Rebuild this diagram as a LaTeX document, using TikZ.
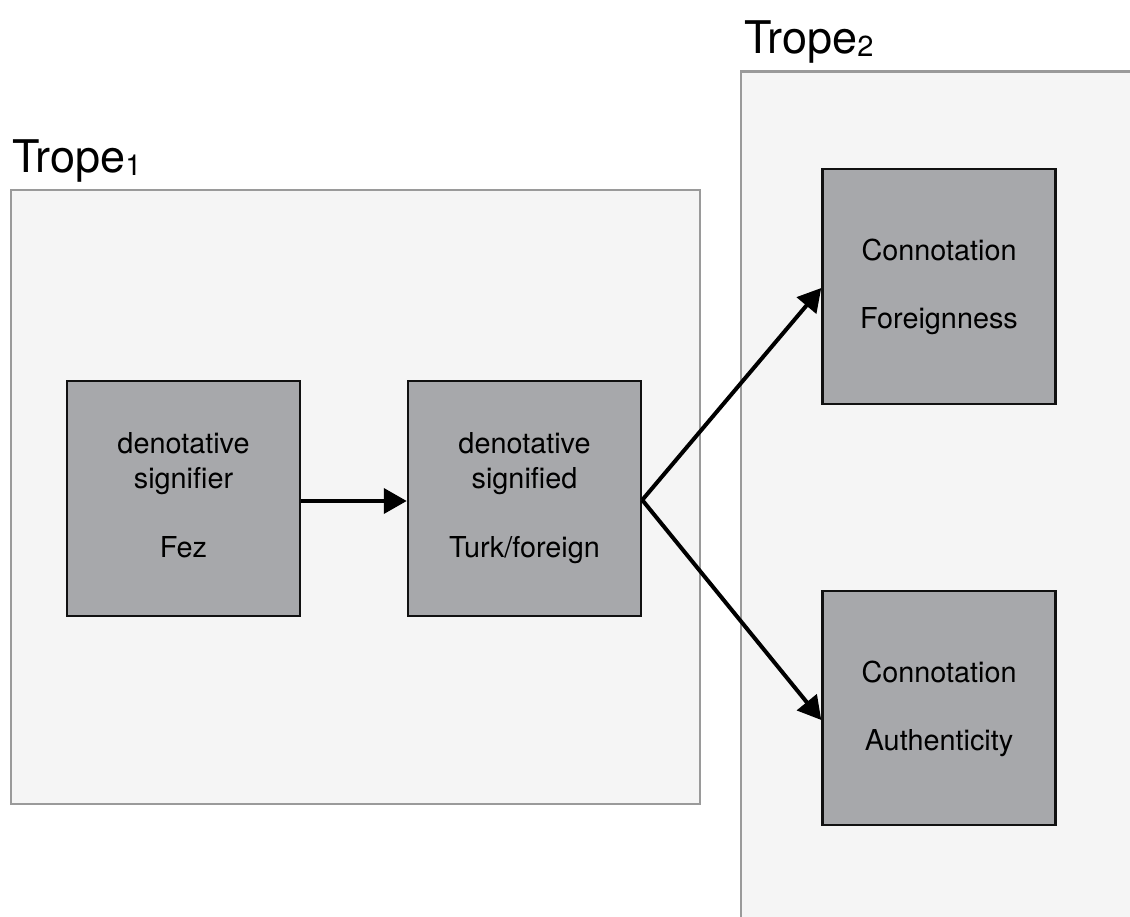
\documentclass[tikz,border=0pt]{standalone}
\usepackage{fontspec}
\setmainfont{TeX Gyre Heros}
\usetikzlibrary{arrows.meta}

\definecolor{panelfill}{HTML}{F5F5F5}
\definecolor{panelline}{HTML}{9A9A9A}
\definecolor{boxfill}{HTML}{A7A8AB}
\definecolor{boxline}{HTML}{111111}

\begin{document}
\begin{tikzpicture}[x=1pt,y=-1pt,
  panel/.style={draw=panelline, fill=panelfill, line width=2.5pt, inner sep=0pt},
  sbox/.style={draw=boxline, fill=boxfill, line width=2.5pt, inner sep=0pt,
    minimum width=233pt, minimum height=235pt},
  boxtext/.style={anchor=base, inner sep=0pt, font=\fontsize{28.8pt}{34pt}\selectfont},
  title/.style={anchor=base west, inner sep=0pt, font=\fontsize{45pt}{50pt}\selectfont},
  link/.style={line width=4pt, -{Triangle[length=23pt, width=25pt]}}]

\useasboundingbox (0,0) rectangle (1130,916);
\clip (0,0) rectangle (1130,916);
\fill[white] (0,0) rectangle (1130,916);

% the two trope panels
\node[panel, minimum width=689pt, minimum height=614pt] (trope1) at (355.5,497) {};
\node[panel, minimum width=409pt, minimum height=868.5pt] (trope2) at (945.5,505.75) {};

\newcommand{\subidx}[1]{\raisebox{-3pt}{\fontsize{29pt}{29pt}\selectfont #1}}
\node[title] (t1) at (12,172) {Trope\subidx{1}};
\node[title] (t2) at (744,53) {Trope\subidx{2}};

% signifier / signified boxes
\node[sbox] (fez) at (183.5,498.5) {};
\node[sbox] (turk) at (524.5,498.5) {};
\node[sbox] (foreign) at (939,286.5) {};
\node[sbox, minimum height=234pt] (auth) at (939,708) {};

\node[boxtext] (fezA) at (183.5,453) {denotative};
\node[boxtext] (fezB) at (183.5,488) {signifier};
\node[boxtext] (fezC) at (183.5,557) {Fez};

\node[boxtext] (turkA) at (524.5,453) {denotative};
\node[boxtext] (turkB) at (524.5,488) {signified};
\node[boxtext] (turkC) at (524.5,557) {Turk/foreign};

\node[boxtext] (forA) at (939,260) {Connotation};
\node[boxtext] (forB) at (939,328) {Foreignness};

\node[boxtext] (autA) at (939,682) {Connotation};
\node[boxtext] (autB) at (939,750) {Authenticity};

% connectors
\coordinate (split) at ([yshift=-1.5pt]turk.east);
\draw[link] ([yshift=-2.5pt]fez.east) -- ([yshift=-2.5pt]turk.west);
\draw[link] (split) -- ([yshift=-1.5pt]foreign.west);
\draw[link] (split) -- ([yshift=-12pt]auth.west);

\end{tikzpicture}
\end{document}
